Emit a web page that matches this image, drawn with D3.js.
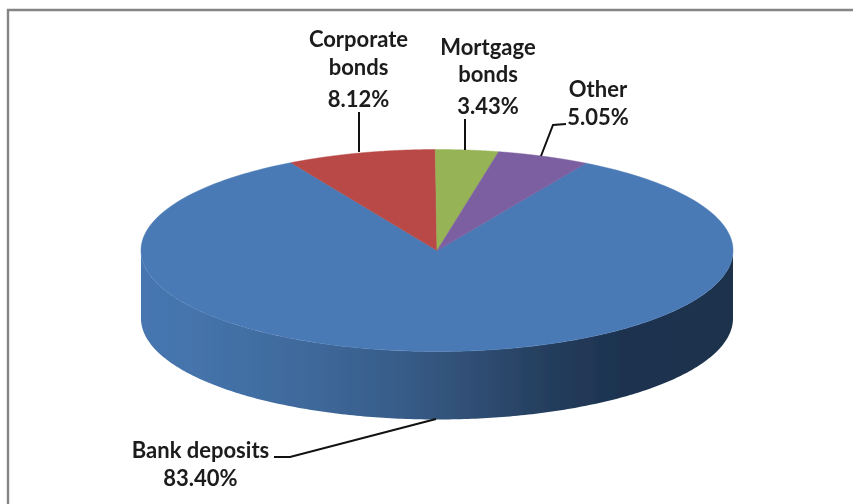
<!DOCTYPE html>
<html><head><meta charset="utf-8">
<style>html,body{margin:0;padding:0;background:#fff}svg{display:block}</style>
<script src="https://cdn.jsdelivr.net/npm/d3@7"></script></head>
<body><svg id="c" width="853" height="504"></svg>
<script>
const categories = ["Bank deposits", "Corporate bonds", "Mortgage bonds", "Other"];
const values = [83.40, 8.12, 3.43, 5.05];
const labelText = ["83.40%", "8.12%", "3.43%", "5.05%"];
const colors = ["#4a7ab5", "#b84a47", "#96b354", "#7c5fa0"];

const W = 853, H = 504;
const cx = 437, cy = 250.5, rx = 296, ry = 101, depth = 68;
const svg = d3.select("#c");
const defs = svg.append("defs");

const grad = defs.append("linearGradient").attr("id", "wall")
  .attr("gradientUnits", "userSpaceOnUse").attr("x1", cx - rx).attr("x2", cx + rx).attr("y1", 0).attr("y2", 0);
[[0, "#4676b0"], [0.1, "#4473aa"], [0.27, "#3f6a9c"], [0.44, "#375c88"], [0.57, "#2f4d72"], [0.69, "#243d5d"], [0.81, "#1d3350"], [1, "#1c314c"]]
  .forEach(([o, c]) => grad.append("stop").attr("offset", o).attr("stop-color", c));
defs.append("filter").attr("id", "soft").attr("x", "-5%").attr("y", "-5%").attr("width", "110%").attr("height", "110%")
  .append("feGaussianBlur").attr("stdDeviation", 0.6);
defs.append("filter").attr("id", "softText").attr("x", "-5%").attr("y", "-20%").attr("width", "110%").attr("height", "140%")
  .append("feGaussianBlur").attr("stdDeviation", 0.35);

// frame: only the top and left edges fall inside the picture
svg.append("path").attr("d", d3.line()([[8, 504], [8, 10], [853, 10]]))
  .attr("fill", "none").attr("stroke", "#858585").attr("stroke-width", 2.4);

const pie = d3.pie().sort(null).value(d => d)
  .startAngle(30.2 * Math.PI / 180).endAngle((360 + 30.2) * Math.PI / 180);
const arcs = pie(values);

const xS = d3.scaleLinear().domain([-1, 1]).range([cx - rx, cx + rx]);
const yS = d3.scaleLinear().domain([-1, 1]).range([cy + ry, cy - ry]);
const pt = a => [xS(Math.sin(a)), yS(Math.cos(a))];
const rimPts = (a0, a1) => d3.range(0, 241).map(i => pt(a0 + (a1 - a0) * i / 240));
const line = d3.line();

const g = svg.append("g").attr("filter", "url(#soft)");
const front = rimPts(Math.PI / 2, Math.PI * 3 / 2);
const wall = front.concat(front.slice().reverse().map(([x, y]) => [x, y + depth]));
g.append("path").attr("d", line(wall) + "Z").attr("fill", "url(#wall)");
g.selectAll("path.slice").data(arcs).join("path").attr("class", "slice")
  .attr("d", d => line([[cx, cy]].concat(rimPts(d.startAngle, d.endAngle))) + "Z")
  .attr("fill", (d, i) => colors[i]).attr("stroke", (d, i) => colors[i]).attr("stroke-width", 0.5);

const leaders = [
  [[359, 112], [359, 152]],
  [[465, 119], [465, 150]],
  [[541, 156], [553, 125], [566, 124]],
  [[436, 419], [290, 457], [274, 457]]
];
leaders.forEach(p => svg.append("path").attr("d", line(p))
  .attr("fill", "none").attr("stroke", "#111").attr("stroke-width", 2));

const labels = [
  {x: 200.5, lines: [[categories[0], 450], [labelText[0], 478]]},
  {x: 358.5, lines: [["Corporate", 39], ["bonds", 67], [labelText[1], 99]]},
  {x: 488, lines: [["Mortgage", 47], ["bonds", 74], [labelText[2], 106]]},
  {x: 598, lines: [[categories[3], 89], [labelText[3], 117]]}
];
const tg = svg.append("g").attr("filter", "url(#softText)");
labels.forEach(l => l.lines.forEach(([t, y]) => tg.append("text")
  .attr("x", l.x).attr("y", y).attr("dy", "0.35em").attr("text-anchor", "middle")
  .attr("font-family", "Lato, 'Open Sans', sans-serif").attr("font-weight", 700).attr("font-size", 22)
  .attr("fill", "#1a1a1a").text(t)));
</script></body></html>
